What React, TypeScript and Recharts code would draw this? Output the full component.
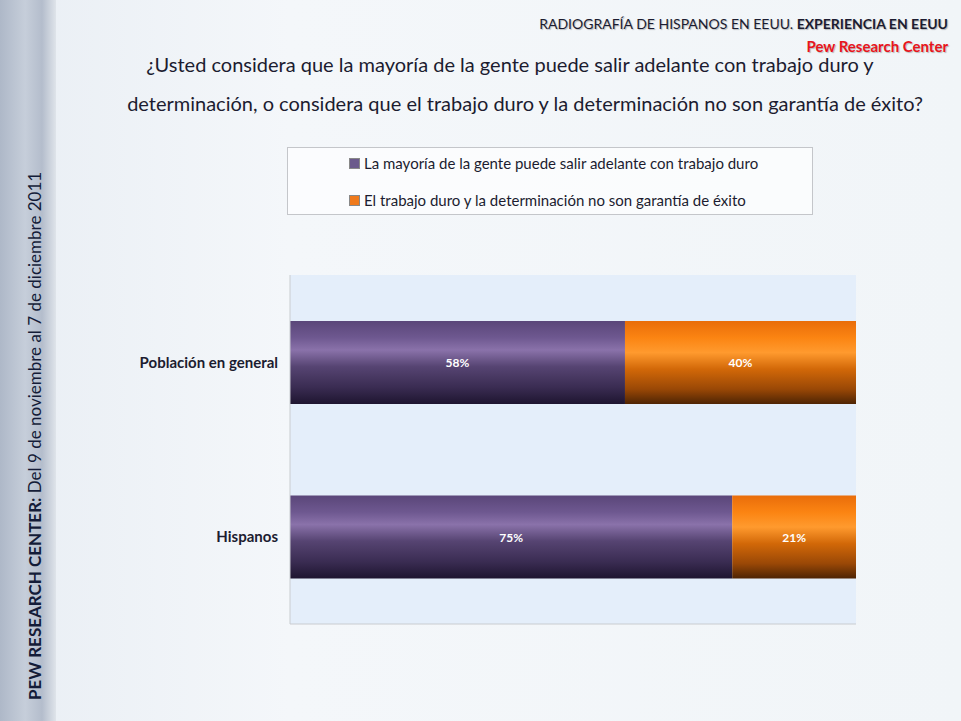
import { Bar, BarChart, CartesianGrid, LabelList, Legend, XAxis, YAxis } from 'recharts'

const categories = ['Población en general', 'Hispanos']
const puedeSalir = [58, 75]
const noGarantia = [40, 21]
const seriesNames = [
  'La mayoría de la gente puede salir adelante con trabajo duro',
  'El trabajo duro y la determinación no son garantía de éxito',
]

const data = categories.map((name, i) => ({
  name,
  puedeSalir: puedeSalir[i],
  noGarantia: noGarantia[i],
}))

const FONT = 'Lato, "Open Sans", sans-serif'
const TEXT = '#1c1c30'
const SWATCH = ['#6b5a8c', '#f07a1c']

function BarLabel(values: number[]) {
  return (props: any) => {
    const { x, y, width, height, index } = props
    return (
      <text
        x={Number(x) + Number(width) / 2}
        y={Number(y) + Number(height) / 2}
        fill="#ffffff"
        fontSize={12}
        fontWeight={700}
        fontFamily={FONT}
        textAnchor="middle"
        dominantBaseline="central"
      >
        {values[index]}%
      </text>
    )
  }
}

function LegendBox() {
  return (
    <div
      style={{
        width: 526,
        height: 68,
        boxSizing: 'border-box',
        border: '1px solid #c4c6ca',
        background: 'rgba(252,253,254,0.85)',
        fontFamily: FONT,
        fontSize: 15,
        color: TEXT,
        paddingLeft: 61,
        paddingTop: 4,
      }}
    >
      {seriesNames.map((name, i) => (
        <div key={name} style={{ display: 'flex', alignItems: 'center', height: 22, marginBottom: i === 0 ? 15 : 0 }}>
          <span style={{ width: 9, height: 9, background: SWATCH[i], border: '1px solid #888', marginRight: 4 }} />
          {name}
        </div>
      ))}
    </div>
  )
}

export default function App() {
  return (
    <div
      style={{
        position: 'fixed',
        left: 0,
        top: 0,
        width: 961,
        height: 721,
        overflow: 'hidden',
        background: 'linear-gradient(90deg, #e9eef4 0%, #f4f7fa 30%, #f1f5f8 100%)',
        fontFamily: FONT,
      }}
    >
      <div
        style={{
          position: 'absolute',
          left: 0,
          top: 0,
          width: 56,
          height: 721,
          background: 'linear-gradient(90deg, #aeb8c8 0%, #c6ceda 45%, #b4bdcc 75%, #dfe4ea 100%)',
        }}
      />
      <div
        style={{
          position: 'absolute',
          right: 13,
          top: 12,
          textAlign: 'right',
          color: TEXT,
          textShadow: '1px 1px 1px rgba(0,0,0,0.25)',
          lineHeight: '23px',
          whiteSpace: 'nowrap',
        }}
      >
        <div style={{ fontSize: 14 }}>
          RADIOGRAFÍA DE HISPANOS EN EEUU. <b>EXPERIENCIA EN EEUU</b>
        </div>
        <div style={{ color: '#e8141c', fontWeight: 700, fontSize: 15 }}>Pew Research Center</div>
      </div>
      <div
        style={{
          position: 'absolute',
          left: 100,
          width: 850,
          top: 45,
          textAlign: 'center',
          fontSize: 20,
          lineHeight: '39px',
          color: TEXT,
          whiteSpace: 'nowrap',
        }}
      >
        <div style={{ paddingRight: 30 }}>
          ¿Usted considera que la mayoría de la gente puede salir adelante con trabajo duro y
        </div>
        <div>determinación, o considera que el trabajo duro y la determinación no son garantía de éxito?</div>
      </div>
      <div
        style={{
          position: 'absolute',
          left: 25,
          top: 700,
          transform: 'rotate(-90deg)',
          transformOrigin: '0 0',
          whiteSpace: 'nowrap',
          fontSize: 17,
          color: '#141c38',
          lineHeight: '20px',
        }}
      >
        <b>PEW RESEARCH CENTER:</b> Del 9 de noviembre al 7 de diciembre 2011
      </div>
      <div style={{ position: 'absolute', left: 0, top: 0 }}>
        <BarChart
          width={961}
          height={721}
          data={data}
          layout="vertical"
          stackOffset="expand"
          margin={{ top: 275, right: 105, bottom: 96, left: 140 }}
        >
          <defs>
            <linearGradient id="gradPurple" x1="0" y1="0" x2="0" y2="1">
              <stop offset="0%" stopColor="#5a4679" />
              <stop offset="20%" stopColor="#6e5890" />
              <stop offset="35%" stopColor="#8a72aa" />
              <stop offset="55%" stopColor="#564472" />
              <stop offset="80%" stopColor="#3a2c52" />
              <stop offset="100%" stopColor="#1e1530" />
            </linearGradient>
            <linearGradient id="gradOrange" x1="0" y1="0" x2="0" y2="1">
              <stop offset="0%" stopColor="#e96d0a" />
              <stop offset="20%" stopColor="#fb8412" />
              <stop offset="38%" stopColor="#ff9a2e" />
              <stop offset="58%" stopColor="#d26808" />
              <stop offset="82%" stopColor="#9a4806" />
              <stop offset="100%" stopColor="#4e2404" />
            </linearGradient>
          </defs>
          <CartesianGrid horizontal={false} vertical={false} fill="#e4eefa" />
          <XAxis
            type="number"
            domain={[0, 1]}
            axisLine={{ stroke: '#c9ccd0' }}
            tickLine={false}
            tick={false}
            height={1}
          />
          <YAxis
            type="category"
            dataKey="name"
            width={150}
            axisLine={{ stroke: '#c9ccd0' }}
            tickLine={false}
            tickMargin={6}
            tick={{ fill: TEXT, fontSize: 15, fontWeight: 700, fontFamily: FONT }}
          />
          <Legend
            layout="vertical"
            align="center"
            verticalAlign="middle"
            content={<LegendBox />}
            wrapperStyle={{ position: 'absolute', left: 287, top: 147, width: 526, height: 68 }}
          />
          <Bar dataKey="puedeSalir" stackId="a" fill="url(#gradPurple)" barSize={83} isAnimationActive={false}>
            <LabelList dataKey="puedeSalir" content={BarLabel(puedeSalir)} />
          </Bar>
          <Bar dataKey="noGarantia" stackId="a" fill="url(#gradOrange)" barSize={83} isAnimationActive={false}>
            <LabelList dataKey="noGarantia" content={BarLabel(noGarantia)} />
          </Bar>
        </BarChart>
      </div>
    </div>
  )
}
